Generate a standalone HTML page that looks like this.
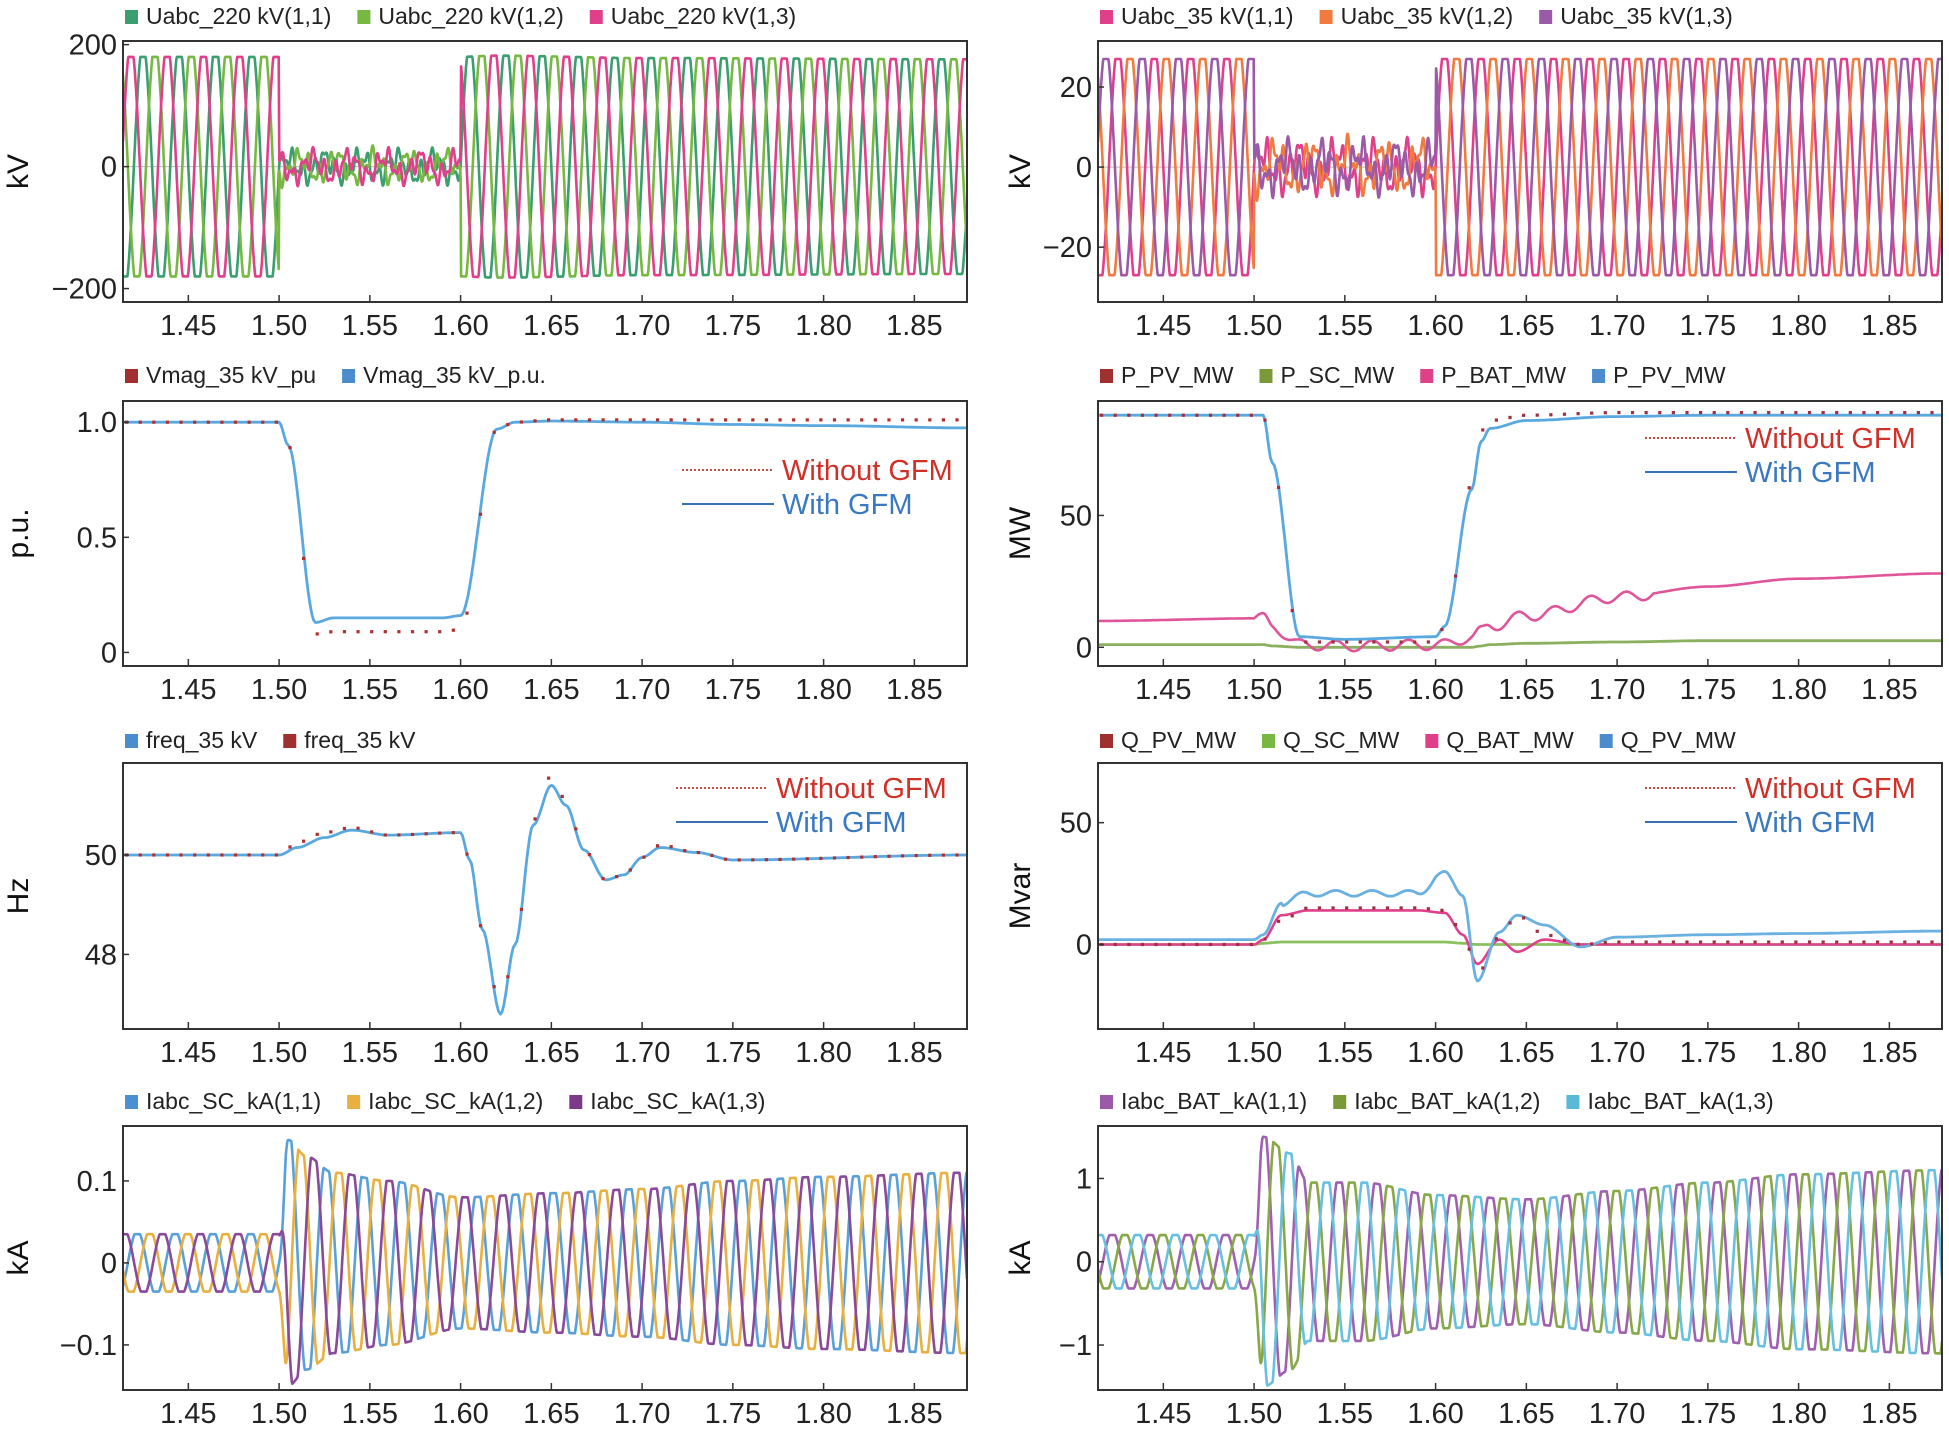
<!DOCTYPE html>
<html><head><meta charset="utf-8"><style>
html,body{margin:0;padding:0;background:#fff}
svg{display:block;font-family:"Liberation Sans",sans-serif}
</style></head><body>
<svg id="c" width="1949" height="1431" viewBox="0 0 1949 1431" xmlns="http://www.w3.org/2000/svg"></svg>
<script>
// ---- shared data ----
const xTicks=[1.45,1.50,1.55,1.60,1.65,1.70,1.75,1.80,1.85];
const xDomain=[1.414,1.879];
// 220 kV voltage envelope
const u220T=[1.414,1.4999,1.5001,1.5999,1.6001,1.62,1.70,1.879];
const u220A=[180,180,25,25,180,182,178,176];
// 35 kV voltage envelope
const u35T=[1.414,1.4999,1.5001,1.5999,1.6001,1.62,1.879];
const u35A=[27,27,6,6,27,27,27];
// Vmag
const vmT=[1.414,1.50,1.505,1.52,1.53,1.56,1.59,1.60,1.62,1.63,1.65,1.70,1.75,1.80,1.879];
const vmWith=[1.0,1.0,0.9,0.13,0.15,0.15,0.15,0.16,0.97,1.0,1.005,1.0,0.99,0.985,0.975];
const vmWithout=[1.0,1.0,0.9,0.08,0.09,0.09,0.09,0.1,0.97,1.0,1.01,1.01,1.01,1.01,1.01];
// P
const pT=[1.414,1.505,1.51,1.525,1.55,1.60,1.605,1.62,1.625,1.63,1.65,1.70,1.75,1.80,1.879];
const pPV=[88,88,70,4,3,4,8,60,78,83,86,87.5,88,88,88];
const pPVwo=[88,88,70,2,2,2,8,62,82,86,88,89,89,89,89];
const pBAT=[10,11,8,1,0.5,1,1,4,6,8,12,19,23,26,28];
const pSC=[1,1,0.5,0,0,0,0,0,0.5,1,1.5,2,2.5,2.5,2.5];
// Q
const qT=[1.414,1.50,1.505,1.515,1.53,1.59,1.605,1.615,1.623,1.635,1.645,1.66,1.68,1.70,1.75,1.80,1.879];
const qPV=[2,2,4,17,21,21,30,20,-15,5,12,8,-1,3,4,4.5,5.5];
const qBAT=[0,0,2,12,14,14,13,4,-8,2,-3,2,0,0,0,0,0];
const qPVwo=[0,0,2,10,15,15,14,5,-12,3,12,4,0,1,1,1,1];
const qSC=[0,0,0.5,1,1,1,1,0.5,0,0,0,0,0,0,0,0,0];
// frequency
const fT=[1.414,1.50,1.51,1.525,1.54,1.56,1.60,1.605,1.612,1.622,1.63,1.64,1.65,1.658,1.668,1.68,1.69,1.70,1.71,1.73,1.75,1.879];
const fWith=[50,50,50.15,50.35,50.5,50.4,50.45,49.9,48.5,46.8,48.2,50.6,51.4,51.0,50.1,49.5,49.6,49.95,50.15,50.05,49.9,50];
const fWithout=[50,50,50.25,50.45,50.55,50.4,50.45,49.9,48.5,46.9,48.2,50.7,51.6,51.1,50.1,49.5,49.6,49.95,50.2,50.05,49.9,50];
// currents
const iscT=[1.414,1.4999,1.505,1.515,1.53,1.56,1.60,1.65,1.70,1.75,1.80,1.879];
const iscA=[0.035,0.035,0.15,0.13,0.11,0.1,0.08,0.085,0.09,0.1,0.105,0.11];
const ibatT=[1.414,1.4999,1.505,1.52,1.53,1.56,1.60,1.65,1.70,1.75,1.80,1.879];
const ibatA=[0.32,0.32,1.5,1.3,0.95,0.95,0.8,0.75,0.85,0.95,1.05,1.1];

const svg=document.getElementById('c');
const NS='http://www.w3.org/2000/svg';
function mk(tag,attrs,parent){const e=document.createElementNS(NS,tag);for(const k in attrs)e.setAttribute(k,attrs[k]);(parent||svg).appendChild(e);return e;}
function interp(ts,vs,t){if(t<=ts[0])return vs[0];for(let i=1;i<ts.length;i++){if(t<=ts[i]){const f=(t-ts[i-1])/(ts[i]-ts[i-1]);const s=f*f*(3-2*f);return vs[i-1]+s*(vs[i]-vs[i-1]);}}return vs[vs.length-1];}

function panel(o){
  const g=mk('g',{});
  
  
  const xs=t=>o.x0+(t-xDomain[0])/(xDomain[1]-xDomain[0])*(o.x1-o.x0);
  const ys=v=>o.y1-(v-o.yd[0])/(o.yd[1]-o.yd[0])*(o.y1-o.y0);
  o.xs=xs;o.ys=ys;o.g=g;
  let lx=o.x0+2;
  o.legend.forEach((L,i)=>{
    const sq=mk('rect',{x:lx,y:o.ly-6,width:13,height:14,fill:L[1]},g);
    
    
    const t=mk('text',{x:lx+21,y:o.ly+8,'font-size':23,fill:'#222'},g);
    t.textContent=L[0];
    
    
    let w=t.getComputedTextLength?t.getComputedTextLength():L[0].length*11;
    if(!w)w=L[0].length*11;
    lx+=21+w+26;
  });
  const clipId='cl'+o.name;
  const cp=mk('clipPath',{id:clipId},g);mk('rect',{x:o.x0,y:o.y0,width:o.x1-o.x0,height:o.y1-o.y0},cp);
  o.plot=mk('g',{'clip-path':'url(#'+clipId+')'},g);
  if(o.zero){mk('line',{x1:o.x0,x2:o.x1,y1:ys(0),y2:ys(0),stroke:'#bbb','stroke-width':1},o.plot);}
  const fr=mk('rect',{x:o.x0,y:o.y0,width:o.x1-o.x0,height:o.y1-o.y0,fill:'none',stroke:'#333','stroke-width':2},g);
  
  
  xTicks.forEach(t=>{
    const x=xs(t);
    mk('line',{x1:x,x2:x,y1:o.y1,y2:o.y1-7,stroke:'#333','stroke-width':1.5},g);
    const tx=mk('text',{x:x,y:o.y1+33,'font-size':29,'text-anchor':'middle',fill:'#222'},g);
    tx.textContent=t.toFixed(2);
    
    
  });
  o.yTicks.forEach((v,i)=>{
    const y=ys(v);
    mk('line',{x1:o.x0,x2:o.x0+6,y1:y,y2:y,stroke:'#333','stroke-width':1.5},g);
    const tx=mk('text',{x:o.x0-6,y:y+10,'font-size':29,'text-anchor':'end',fill:'#222'},g);
    tx.textContent=o.yLabels[i];
    
    
  });
  const yl=mk('text',{x:0,y:0,'font-size':30,'text-anchor':'middle',fill:'#111',transform:`translate(${o.ylx},${(o.y0+o.y1)/2}) rotate(-90)`},g);
  yl.textContent=o.ylabel;
  
  
  return o;
}
function line(o,pts,color,w,name,dash){
  const d='M'+pts.map(p=>o.xs(p[0]).toFixed(1)+','+o.ys(p[1]).toFixed(1)).join('L');
  const p=mk('path',{d:d,fill:'none',stroke:color,'stroke-width':w||2.5,'stroke-linejoin':'round'},o.plot);
  if(dash)p.setAttribute('stroke-dasharray',dash);
  
  
  return p;
}
function series(ts,vs,step){const out=[];for(let t=xDomain[0];t<=xDomain[1]+1e-9;t+=step)out.push([t,interp(ts,vs,t)]);return out;}
function dots(o,ts,vs,color,step,name){
  for(let t=xDomain[0]+0.002;t<=xDomain[1];t+=step){
    const c=mk('rect',{x:o.xs(t)-1.6,y:o.ys(interp(ts,vs,t))-1.6,width:3.2,height:3.2,fill:color},o.plot);
    
    
  }
}
function threePhase(o,ts,as,cols,names,faultT,f){
  const ph=[0,-2*Math.PI/3,2*Math.PI/3];
  ph.forEach((p,k)=>{
    const pts=[];
    for(let t=xDomain[0];t<=xDomain[1];t+=0.0003){
      let a=interp(ts,as,t);
      let v;
      if(faultT&&t>faultT[0]&&t<faultT[1]){
        v=a*(0.6*Math.sin(2*Math.PI*50*t+p)+0.5*Math.sin(2*Math.PI*170*t+2*p+k)+0.3*Math.sin(2*Math.PI*310*t+k*1.7));
      }else{
        const s=Math.sin(2*Math.PI*(f||50)*t+p);
        v=a*Math.max(-1,Math.min(1,1.12*s));
      }
      pts.push([t,v]);
    }
    line(o,pts,cols[k],2.6,names[k]);
  });
}
function inLegend(o,x,y){
  const g=o.g;
  const l1=mk('line',{x1:x,x2:x+92,y1:y,y2:y,stroke:'#c0302a','stroke-width':1.8,'stroke-dasharray':'2,2'},g);
  
  
  const t1=mk('text',{x:x+100,y:y+10,'font-size':29,fill:'#d03028'},g);t1.textContent='Without GFM';
  
  
  const l2=mk('line',{x1:x,x2:x+92,y1:y+34,y2:y+34,stroke:'#3a70b8','stroke-width':2},g);
  
  
  const t2=mk('text',{x:x+100,y:y+44,'font-size':29,fill:'#3a78c0'},g);t2.textContent='With GFM';
  
  
}
const L0=123,L1=967,R0=1098,R1=1942;
const p1=panel({name:'u220-panel',x0:L0,x1:L1,y0:41,y1:302,ly:16,yd:[-222,206],yTicks:[200,0,-200],yLabels:['200','0','−200'],ylabel:'kV',ylx:28,zero:true,
 legend:[['Uabc_220 kV(1,1)','#3a9e6e'],['Uabc_220 kV(1,2)','#77b843'],['Uabc_220 kV(1,3)','#e0408a']]});
threePhase(p1,u220T,u220A,['#3a9e6e','#77b843','#e0408a'],['u220-a','u220-b','u220-c'],[1.5,1.6]);
const p2=panel({name:'u35-panel',x0:R0,x1:R1,y0:41,y1:302,ly:16,yd:[-33.7,31.5],yTicks:[20,0,-20],yLabels:['20','0','−20'],ylabel:'kV',ylx:1030,zero:true,
 legend:[['Uabc_35 kV(1,1)','#e0408a'],['Uabc_35 kV(1,2)','#f07a40'],['Uabc_35 kV(1,3)','#9b5aa8']]});
threePhase(p2,u35T,u35A,['#e0408a','#f07a40','#9b5aa8'],['u35-a','u35-b','u35-c'],[1.5,1.6]);
const p3=panel({name:'vmag-panel',x0:L0,x1:L1,y0:401,y1:666,ly:375,yd:[-0.059,1.092],yTicks:[1,0.5,0],yLabels:['1.0','0.5','0'],ylabel:'p.u.',ylx:28,
 legend:[['Vmag_35 kV_pu','#a03030'],['Vmag_35 kV_p.u.','#4a8ccc']]});
line(p3,series(vmT,vmWith,0.001),'#5aa8e0',2.8,'vmag-with-gfm');
dots(p3,vmT,vmWithout,'#b03030',0.0075,'vmag-without-gfm-dot');
inLegend(p3,682,470);
const p4=panel({name:'power-panel',x0:R0,x1:R1,y0:401,y1:666,ly:375,yd:[-7.1,93.4],yTicks:[50,0],yLabels:['50','0'],ylabel:'MW',ylx:1030,
 legend:[['P_PV_MW','#a03030'],['P_SC_MW','#7a9a3a'],['P_BAT_MW','#e0408a'],['P_PV_MW','#4a8ccc']]});
line(p4,series(pT,pSC,0.001),'#8ab060',2.8,'p-sc');
line(p4,series(pT,pBAT,0.001).map(p=>[p[0],p[1]+(p[0]>1.5&&p[0]<1.72?2*Math.sin(2*Math.PI*50*p[0]):0)]),'#e0559a',2.6,'p-bat');
line(p4,series(pT,pPV,0.001),'#5aa8e0',2.8,'p-pv-with-gfm');
dots(p4,pT,pPVwo,'#a03040',0.0075,'p-pv-without-gfm-dot');
inLegend(p4,1645,438);
const p5=panel({name:'freq-panel',x0:L0,x1:L1,y0:763,y1:1029,ly:740,yd:[46.5,51.85],yTicks:[50,48],yLabels:['50','48'],ylabel:'Hz',ylx:28,
 legend:[['freq_35 kV','#4a8ccc'],['freq_35 kV','#a03030']]});
line(p5,series(fT,fWith,0.001),'#5aa8e0',2.8,'freq-with-gfm');
dots(p5,fT,fWithout,'#b03030',0.0075,'freq-without-gfm-dot');
inLegend(p5,676,788);
const p6=panel({name:'reactive-panel',x0:R0,x1:R1,y0:763,y1:1029,ly:740,yd:[-34.7,74.5],yTicks:[50,0],yLabels:['50','0'],ylabel:'Mvar',ylx:1030,
 legend:[['Q_PV_MW','#a03030'],['Q_SC_MW','#77b843'],['Q_BAT_MW','#e0408a'],['Q_PV_MW','#4a8ccc']]});
line(p6,series(qT,qSC,0.001),'#8ac060',2.8,'q-sc');
line(p6,series(qT,qBAT,0.001),'#e0408a',2.6,'q-bat');
line(p6,series(qT,qPV,0.001).map(p=>[p[0],p[1]+(p[0]>1.515&&p[0]<1.6?1.2*Math.sin(2*Math.PI*50*p[0]):0)]),'#6ab0e0',2.8,'q-pv-with-gfm');
dots(p6,qT,qPVwo,'#a03040',0.0075,'q-pv-without-gfm-dot');
inLegend(p6,1645,788);
const p7=panel({name:'isc-panel',x0:L0,x1:L1,y0:1126,y1:1390,ly:1101,yd:[-0.155,0.167],yTicks:[0.1,0,-0.1],yLabels:['0.1','0','−0.1'],ylabel:'kA',ylx:28,
 legend:[['Iabc_SC_kA(1,1)','#4a90d0'],['Iabc_SC_kA(1,2)','#e8b040'],['Iabc_SC_kA(1,3)','#7b3a8a']]});
threePhase(p7,iscT,iscA,['#5aa0d8','#e8b040','#8a4a9a'],['isc-a','isc-b','isc-c'],null,48);
const p8=panel({name:'ibat-panel',x0:R0,x1:R1,y0:1126,y1:1390,ly:1101,yd:[-1.54,1.63],yTicks:[1,0,-1],yLabels:['1','0','−1'],ylabel:'kA',ylx:1030,
 legend:[['Iabc_BAT_kA(1,1)','#9b5aa8'],['Iabc_BAT_kA(1,2)','#7a9a3a'],['Iabc_BAT_kA(1,3)','#5ab8d8']]});
threePhase(p8,ibatT,ibatA,['#a060b0','#88a848','#68c0e0'],['ibat-a','ibat-b','ibat-c'],null,48);
</script>
</body></html>
